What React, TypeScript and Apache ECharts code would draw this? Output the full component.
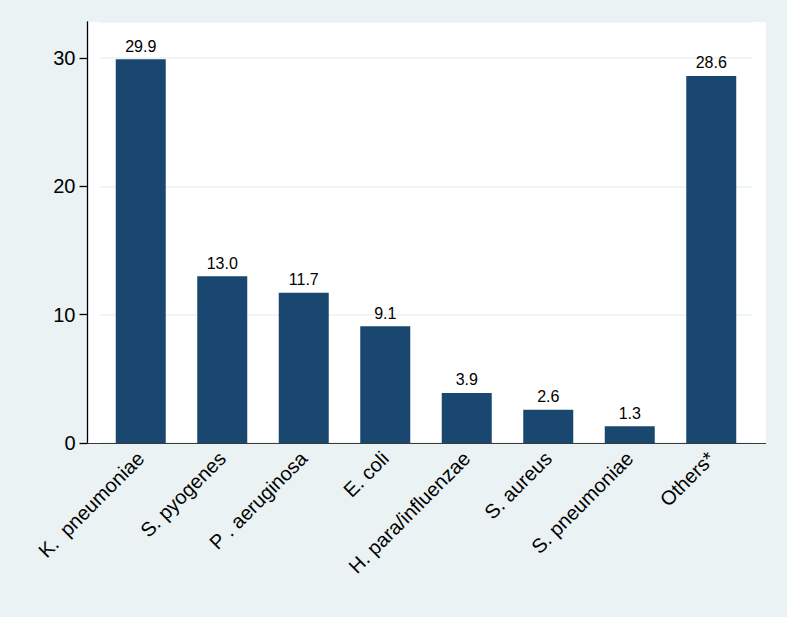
import React, { useEffect, useRef } from "react";
import * as echarts from "echarts";

const categories = [
  "K.  pneumoniae",
  "S. pyogenes",
  "P . aeruginosa",
  "E. coli",
  "H. para/influenzae",
  "S. aureus",
  "S. pneumoniae",
  "Others*",
];
const values = [29.9, 13.0, 11.7, 9.1, 3.9, 2.6, 1.3, 28.6];
const yTicks = [0, 10, 20, 30];

const FONT = "'Liberation Sans', Arial, Helvetica, sans-serif";

export default function App() {
  const ref = useRef<HTMLDivElement>(null);
  useEffect(() => {
    document.body.style.margin = "0";
    const chart = echarts.init(ref.current!, undefined, { renderer: "svg" });
    chart.setOption({
      animation: false,
      backgroundColor: "#EAF2F3",
      textStyle: { fontFamily: FONT },
      grid: { left: 100, right: 35, top: 22, bottom: 174 },
      graphic: [
        {
          type: "rect",
          z: -10,
          shape: { x: 87.5, y: 22, width: 678.5, height: 421.5 },
          style: { fill: "#FFFFFF" },
          silent: true,
        },
        {
          type: "line",
          z: 10,
          shape: { x1: 87.5, y1: 443.5, x2: 766, y2: 443.5 },
          style: { stroke: "#3a3a3a", lineWidth: 1.2 },
          silent: true,
        },
      ],
      xAxis: {
        type: "category",
        data: categories,
        axisLine: { show: false },
        axisTick: { show: false },
        axisLabel: {
          rotate: 45,
          interval: 0,
          margin: 12,
          fontSize: 20,
          color: "#000",
          fontFamily: FONT,
        },
      },
      yAxis: {
        type: "value",
        min: 0,
        max: 32.8,
        interval: 10,
        offset: 12.5,
        axisLine: { show: true, lineStyle: { color: "#000", width: 1.3 } },
        axisTick: { show: true, length: 8, lineStyle: { color: "#000", width: 1.3 } },
        axisLabel: {
          showMaxLabel: false,
          margin: 12,
          fontSize: 20,
          color: "#000",
          fontFamily: FONT,
          formatter: (v: number) => (yTicks.includes(v) ? String(v) : ""),
        },
        splitLine: { show: true, lineStyle: { color: "#EAF2F3", width: 1.5 } },
      },
      series: [
        {
          type: "bar",
          data: values,
          barWidth: 50,
          itemStyle: { color: "#1A476F" },
          label: {
            show: true,
            position: "top",
            distance: 5,
            fontSize: 16,
            color: "#000",
            fontFamily: FONT,
            formatter: (p: any) => Number(p.value).toFixed(1),
          },
        },
      ],
    });
    return () => chart.dispose();
  }, []);
  return <div ref={ref} style={{ width: 787, height: 617 }} />;
}
